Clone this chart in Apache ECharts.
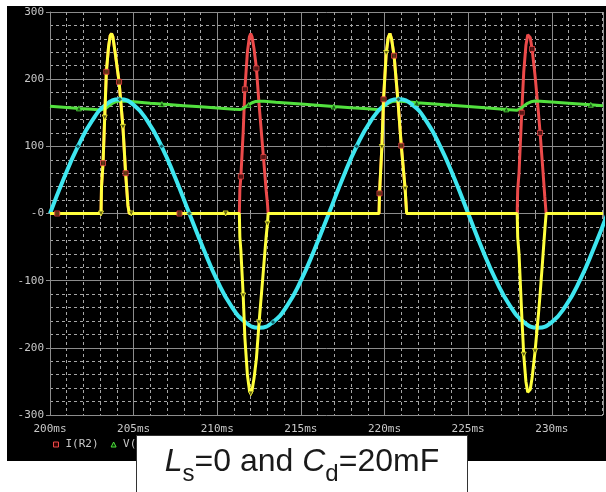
<!DOCTYPE html>
<html>
<head>
<meta charset="utf-8">
<title>Ls=0 and Cd=20mF</title>
<script src="https://cdn.jsdelivr.net/npm/echarts@6/dist/echarts.min.js"></script>
<style>
    html, body { margin: 0; padding: 0; background: #fff; }
    #chart { width: 606px; height: 492px; }
</style>
</head>
<body>
<div id="chart"></div>
<script>
// time in ms
const cyanT = [200, 200.83, 201.67, 202.5, 203.33, 204.17, 205, 205.83, 206.67, 207.5, 208.33, 209.17,
    210, 210.83, 211.67, 212.5, 213.33, 214.17, 215, 215.83, 216.67, 217.5, 218.33, 219.17,
    220, 220.83, 221.67, 222.5, 223.33, 224.17, 225, 225.83, 226.67, 227.5, 228.33, 229.17,
    230, 230.83, 231.67, 232.5, 233.33];
const cyanV = [0, 52.5, 100, 137.5, 161.7, 170, 161.7, 137.5, 100, 52.5, 0, -52.5,
    -100, -137.5, -161.7, -170, -161.7, -137.5, -100, -52.5, 0, 52.5, 100, 137.5,
    161.7, 170, 161.7, 137.5, 100, 52.5, 0, -52.5, -100, -137.5, -161.7, -170,
    -161.7, -137.5, -100, -52.5, 0];

// I(R2) - red
const redPts = [
    [200, 0], [200.43, 0],
    [203.05, 0], [203.08, 40], [203.17, 75], [203.27, 143], [203.37, 211], [203.5, 248], [203.6, 265],
    [203.68, 268], [203.76, 263], [203.92, 235], [204.13, 196], [204.36, 129], [204.52, 60], [204.66, 12], [204.74, 0],
    [207.74, 0],
    [211.32, 0], [211.35, 35], [211.41, 55], [211.55, 122], [211.65, 185], [211.8, 240], [211.92, 263],
    [212.0, 268], [212.08, 263], [212.2, 245], [212.34, 216], [212.5, 162], [212.76, 84], [212.92, 35], [213.0, 15], [213.04, 0],
    [219.67, 0], [219.7, 30], [219.84, 99], [219.94, 170], [220.1, 239], [220.22, 262], [220.32, 268],
    [220.42, 260], [220.57, 235], [220.8, 168], [221.0, 101], [221.23, 37], [221.32, 0],
    [227.93, 0], [227.96, 35], [228.04, 60], [228.2, 150], [228.32, 210], [228.45, 250], [228.56, 266],
    [228.63, 268], [228.71, 262], [228.82, 245], [229.0, 205], [229.2, 150], [229.3, 120], [229.45, 70], [229.58, 25], [229.66, 0],
    [233.06, 0]
];

// source current - yellow
const yellowPts = [
    [200, 0],
    [203.05, 0], [203.08, 40], [203.17, 75], [203.27, 143], [203.37, 211], [203.5, 248], [203.6, 265],
    [203.68, 268], [203.76, 263], [203.92, 235], [204.13, 196], [204.36, 129], [204.52, 60], [204.66, 12], [204.74, 0],
    [204.86, 0], [210.5, 0],
    [211.32, 0], [211.35, -35], [211.41, -55], [211.55, -122], [211.65, -185], [211.8, -240], [211.92, -263],
    [212.0, -268], [212.08, -263], [212.2, -245], [212.34, -216], [212.5, -162], [212.76, -84], [212.92, -35], [213.0, -15], [213.04, 0],
    [219.67, 0], [219.7, 30], [219.84, 99], [219.94, 170], [220.1, 239], [220.22, 262], [220.32, 268],
    [220.42, 260], [220.57, 235], [220.8, 168], [221.0, 101], [221.23, 37], [221.32, 0],
    [227.93, 0], [227.96, -35], [228.04, -60], [228.2, -150], [228.32, -210], [228.45, -250], [228.56, -266],
    [228.63, -268], [228.71, -262], [228.82, -245], [229.0, -205], [229.2, -150], [229.3, -120], [229.45, -70], [229.58, -25], [229.66, 0],
    [233.06, 0]
];

// output voltage - green
const greenPts = [
    [200, 159.5], [201, 157.8], [201.73, 156.5], [202.5, 155.2], [203.05, 154.2], [203.3, 156], [203.5, 160],
    [203.7, 163.5], [203.9, 166], [204.1, 167.3], [204.3, 167.5], [204.6, 167], [205, 166.3], [206, 164.2],
    [206.69, 162.9], [208, 160.6], [209, 158.8], [210, 157], [211, 155.3], [211.35, 154.7], [211.55, 156.2],
    [211.75, 159.5], [211.87, 161.5], [212.05, 164.5], [212.3, 166.8], [212.55, 167.3], [212.8, 167],
    [213.5, 165.6], [215, 162.9], [216.96, 159.3], [218, 157.5], [219, 155.8], [219.65, 154.5], [219.85, 157],
    [220.05, 161], [220.25, 164.5], [220.45, 166.7], [220.7, 167.5], [221, 167], [221.92, 165], [223, 163],
    [224, 161.1], [225, 159.2], [226, 157.3], [227.28, 155], [227.93, 153.8], [228.15, 156.5], [228.35, 160.5],
    [228.55, 164], [228.75, 166.3], [229, 167.4], [229.3, 167.2], [230, 166], [231, 164.2], [232.33, 161.8],
    [233.06, 160.5]
];

// trace markers
const redMarks = [[200.43, 0], [203.17, 75], [203.37, 211], [204.13, 196], [204.52, 60], [207.74, 0],
    [211.41, 55], [211.65, 185], [212.34, 216], [212.76, 84], [219.7, 30], [219.94, 170], [220.57, 235],
    [221.0, 101], [228.2, 150], [228.82, 245], [229.3, 120]];
const yellowMarks = [[203.05, 0], [203.27, 143], [204.36, 129], [204.86, 0], [210.5, 0], [211.55, -122],
    [212.0, -268], [212.5, -162], [213.0, -15], [219.84, 99], [220.1, 239], [221.23, 37], [228.32, -210], [229.0, -205]];
const greenMarks = [[201.73, 156.5], [206.69, 162.9], [211.87, 161.5], [216.96, 159.3], [221.92, 165], [227.28, 155], [232.33, 161.8]];
const cyanMarks = [[201.67, 100], [204.17, 170], [206.67, 100], [208.33, 0], [213.33, -161.7], [218.33, 100], [220.83, 170]];

const xTicks = [200, 205, 210, 215, 220, 225, 230];
const yTicks = [-300, -200, -100, 0, 100, 200, 300];

const RED = '#ec4a4a', YELLOW = '#ffff3c', GREEN = '#52e03e', CYAN = '#3ee6f0';
const AXIS_GRAY = '#8c8c8c', DASH_GRAY = '#a6a6a6', LABEL_GRAY = '#c8c8c8';
const MONO = '"DejaVu Sans Mono", monospace';

function lineSeries(name, data, color, width, smooth) {
    return {
        name: name, type: 'line', data: data, smooth: smooth || false,
        showSymbol: false, symbol: 'none',
        lineStyle: { color: color, width: width },
        itemStyle: { color: color },
        z: 3
    };
}

function markSeries(data, symbol, size, fill, stroke, rotate) {
    return {
        type: 'scatter', data: data, symbol: symbol, symbolSize: size, symbolRotate: rotate || 0,
        itemStyle: { color: fill, borderColor: stroke, borderWidth: 1 },
        z: 5, silent: true
    };
}

// caption "Ls=0 and Cd=20mF" with italic letters and subscripts
function buildCaption(cx, baseline) {
    const parts = [
        { text: 'L', size: 32, italic: true },
        { text: 's', size: 24, sub: true },
        { text: '=0 and ', size: 32 },
        { text: 'C', size: 32, italic: true },
        { text: 'd', size: 24, sub: true },
        { text: '=20mF', size: 32 }
    ];
    const ctx = document.createElement('canvas').getContext('2d');
    let total = 0;
    parts.forEach(p => {
        p.font = (p.italic ? 'italic ' : '') + p.size + 'px "Liberation Sans"';
        ctx.font = p.font;
        p.w = ctx.measureText(p.text).width;
        total += p.w;
    });
    let x = cx - total / 2;
    const els = [];
    parts.forEach(p => {
        const base = p.sub ? baseline + 9 : baseline;
        els.push({
            type: 'text', x: x, y: base - p.size * 0.36, z: 102, silent: true,
            style: {
                text: p.text, fill: '#1a1a1a',
                font: p.font, align: 'left', verticalAlign: 'middle'
            }
        });
        x += p.w;
    });
    return els;
}

const chart = echarts.init(document.getElementById('chart'));

const option = {
    backgroundColor: '#000',
    animation: false,
    grid: { left: 50, right: 0, top: 12, bottom: 77 },
    legend: {
        left: 53, top: 439, padding: 0, itemWidth: 5, itemHeight: 5, itemGap: 12,
        selectedMode: false,
        textStyle: { color: LABEL_GRAY, fontFamily: MONO, fontSize: 11, padding: [0, 0, 0, 2] },
        data: [
            { name: 'I(R2)', icon: 'rect', itemStyle: { color: '#300', borderColor: RED, borderWidth: 1 } },
            { name: 'V(R2)', icon: 'triangle', itemStyle: { color: '#030', borderColor: GREEN, borderWidth: 1 } }
        ]
    },
    xAxis: {
        type: 'value', min: 200, max: 233.06, interval: 5,
        axisLine: { show: true, lineStyle: { color: AXIS_GRAY } },
        axisTick: { show: true, length: 5, lineStyle: { color: AXIS_GRAY } },
        minorTick: { show: true, splitNumber: 5, length: 3, lineStyle: { color: AXIS_GRAY } },
        splitLine: { show: true, lineStyle: { color: AXIS_GRAY } },
        minorSplitLine: { show: true, lineStyle: { color: DASH_GRAY, type: [3, 3] } },
        axisLabel: {
            color: LABEL_GRAY, fontFamily: MONO, fontSize: 11, margin: 9,
            formatter: v => (xTicks.indexOf(v) >= 0 ? v + 'ms' : '')
        }
    },
    yAxis: {
        type: 'value', min: -300, max: 300, interval: 100,
        axisLine: { show: true, lineStyle: { color: AXIS_GRAY } },
        axisTick: { show: true, length: 4, lineStyle: { color: AXIS_GRAY } },
        splitLine: { show: true, lineStyle: { color: AXIS_GRAY } },
        minorSplitLine: { show: true, lineStyle: { color: DASH_GRAY, type: [3, 3] } },
        minorTick: { show: false, splitNumber: 5 },
        axisLabel: {
            color: LABEL_GRAY, fontFamily: MONO, fontSize: 11, margin: 6,
            formatter: v => (yTicks.indexOf(v) < 0 ? '' : (v === 0 ? '-0' : String(v)))
        }
    },
    series: [
        lineSeries('I(R2)', redPts, RED, 3),
        lineSeries('V(R2)', greenPts, GREEN, 3),
        lineSeries('V(V1)', cyanT.map((t, i) => [t, cyanV[i]]), CYAN, 4, true),
        lineSeries('I(V1)', yellowPts, YELLOW, 3),
        markSeries(redMarks, 'rect', 5, '#3a0808', RED),
        markSeries(yellowMarks, 'triangle', 5, '#3a3a00', YELLOW, 180),
        markSeries(greenMarks, 'triangle', 5, '#0a3a0a', GREEN),
        markSeries(cyanMarks, 'diamond', 5, '#083a40', CYAN)
    ],
    graphic: [
        { type: 'rect', silent: true, z: 100, shape: { x: 0, y: 0, width: 7, height: 492 }, style: { fill: '#fff' } },
        { type: 'rect', silent: true, z: 100, shape: { x: 0, y: 0, width: 606, height: 6 }, style: { fill: '#fff' } },
        { type: 'rect', silent: true, z: 100, shape: { x: 0, y: 461, width: 606, height: 31 }, style: { fill: '#fff' } },
        { type: 'rect', silent: true, z: 101, shape: { x: 136.5, y: 435.5, width: 331, height: 70 },
          style: { fill: '#fff', stroke: '#333', lineWidth: 1 } }
    ].concat(buildCaption(302, 474))
};

chart.setOption(option);
</script>
</body>
</html>
